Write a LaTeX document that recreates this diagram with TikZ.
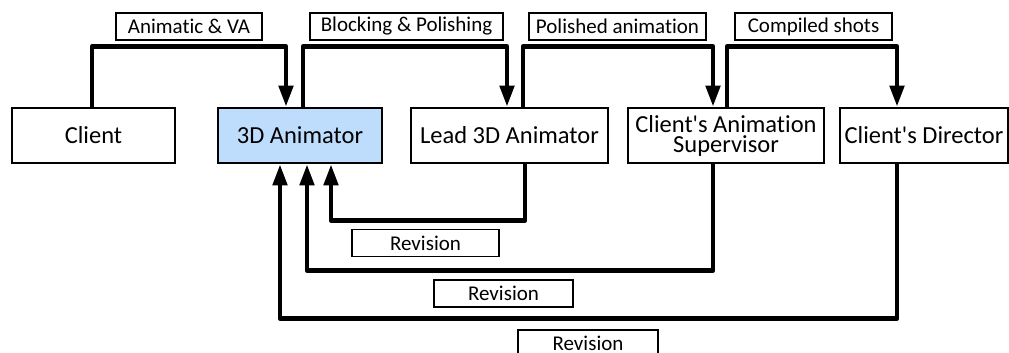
\documentclass[tikz,border=0pt]{standalone}
\usepackage{fontspec}
\setmainfont{Carlito}[Ligatures=CommonOff]
\usetikzlibrary{arrows.meta}
\definecolor{animblue}{RGB}{190,221,252}
\tikzset{
  role/.style={draw, line width=2.6pt, inner sep=0pt, align=center,
    minimum height=55pt, font=\fontsize{24.5}{20}\selectfont},
  tag/.style={draw, line width=1.8pt, inner sep=0pt, minimum height=27pt,
    font=\fontsize{21}{21}\selectfont},
  conn/.style={line width=4.6pt, line join=round,
    -{Triangle[width=14pt,length=21pt]}}
}
\begin{document}
\begin{tikzpicture}[x=1pt,y=-1pt]
\useasboundingbox (0,0) rectangle (1009,353);

% roles
\node[role, minimum width=163pt] (client) at (93.5,135.5) {Client};
\node[role, minimum width=164pt, fill=animblue] (anim) at (300,135.5) {3D Animator};
\node[role, minimum width=197pt] (lead) at (509.5,135.5) {Lead 3D Animator};
\node[role, minimum width=196pt] (sup) at (726,135.5) {Client\textquotesingle s Animation\\Supervisor};
\node[role, minimum width=168pt] (dir) at (924,135.5) {Client\textquotesingle s Director};

% forward hand-offs
\draw[conn] ([xshift=-1.5pt]client.north) -- ++(0,-60) -| ([xshift=-14pt]anim.north);
\draw[conn] ([xshift=3pt]anim.north) -- ++(0,-60) -| ([xshift=-2.5pt]lead.north);
\draw[conn] ([xshift=13.5pt]lead.north) -- ++(0,-60) -| ([xshift=-13pt]sup.north);
\draw[conn] ([xshift=1pt]sup.north) -- ++(0,-60) -| ([xshift=-27pt]dir.north);

% revision loops
\draw[conn] ([xshift=15.5pt]lead.south) -- ++(0,56) -| ([xshift=31pt]anim.south);
\draw[conn] ([xshift=-13pt]sup.south) -- ++(0,106) -| ([xshift=7pt]anim.south);
\draw[conn] ([xshift=-27pt]dir.south) -- ++(0,154) -| ([xshift=-20pt]anim.south);

% labels
\node[tag, minimum width=146pt] (t1) at (189,26.5) {Animatic \& VA};
\node[tag, minimum width=193pt] (t2) at (406.5,26.5) {Blocking \& Polishing};
\node[tag, minimum width=177pt] (t3) at (617.5,26.5) {Polished animation};
\node[tag, minimum width=157pt] (t4) at (813.5,26.5) {Compiled shots};
\node[tag, minimum width=147pt] (r1) at (425.5,243) {Revision};
\node[tag, minimum width=139pt] (r2) at (503.5,293.5) {Revision};
\node[tag, minimum width=140pt] (r3) at (588,343.5) {Revision};
\end{tikzpicture}
\end{document}
